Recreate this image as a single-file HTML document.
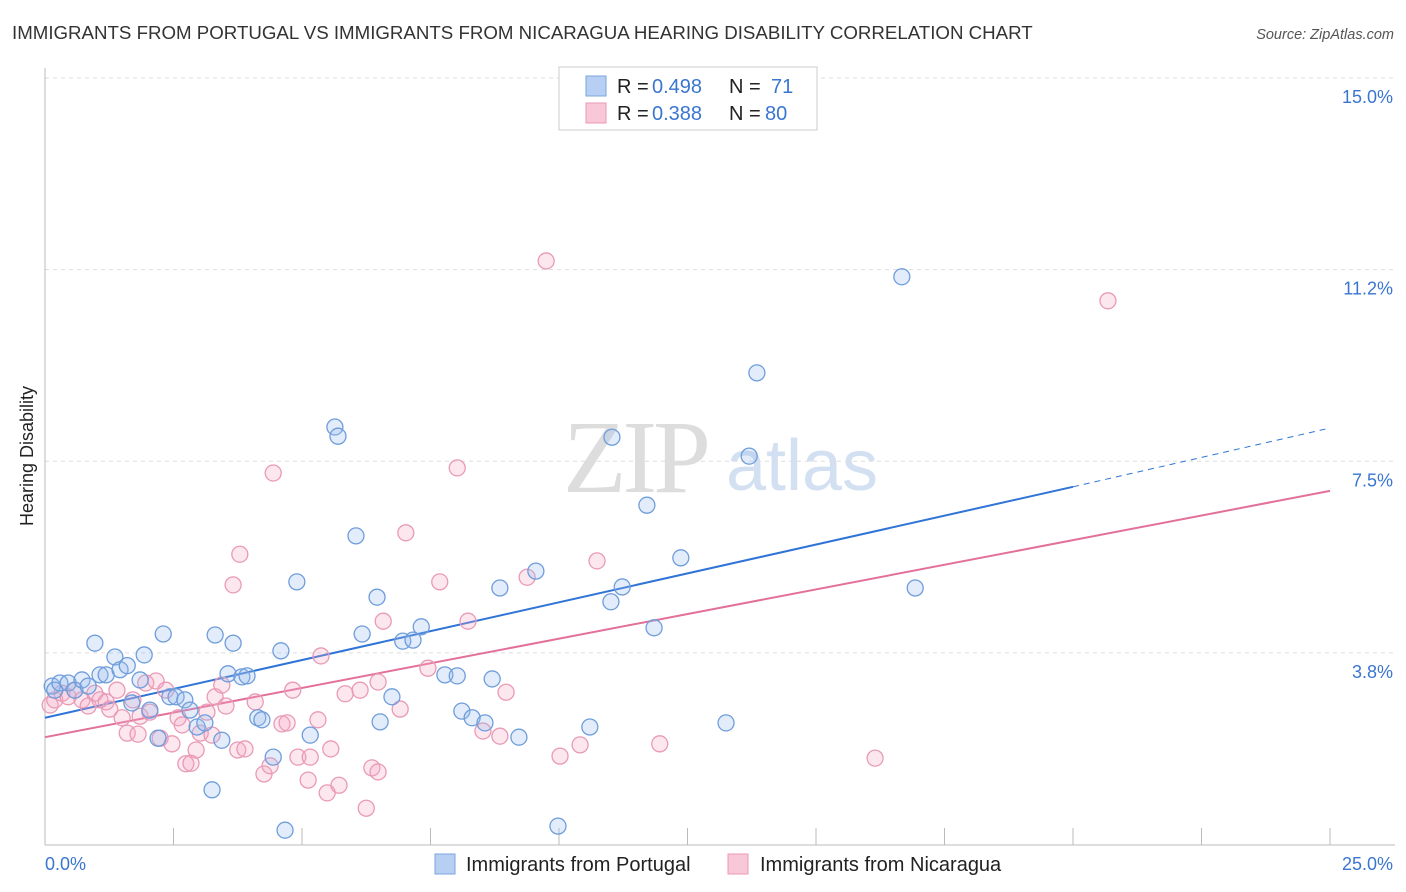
<!DOCTYPE html>
<html><head><meta charset="utf-8">
<style>
body{margin:0;background:#fff;font-family:"Liberation Sans",sans-serif;}
#wrap{position:relative;width:1406px;height:892px;overflow:hidden;}
</style></head>
<body>
<div id="wrap">
<svg id="chart" width="1406" height="892">
<text x="12" y="39" font-size="18.7" fill="#333">IMMIGRANTS FROM PORTUGAL VS IMMIGRANTS FROM NICARAGUA HEARING DISABILITY CORRELATION CHART</text>
<text x="1394" y="39" font-size="14.5" fill="#555" font-style="italic" text-anchor="end">Source: ZipAtlas.com</text>
<text x="33" y="456" font-size="18" fill="#222" text-anchor="middle" transform="rotate(-90 33 456)">Hearing Disability</text>
<g>
<text x="635" y="492" font-size="104" fill="#ddd" font-family="Liberation Serif" text-anchor="middle" letter-spacing="-4">ZIP</text>
<text x="802" y="490" font-size="72" fill="#d3e0f2" text-anchor="middle">atlas</text>
</g>
<g id="grid"></g><g id="trends"></g><g id="points"></g>
<g>
<rect x="559" y="67" width="258" height="63" fill="#fff" stroke="#ccc"/>
<rect x="586" y="76" width="20" height="20" fill="#b6cff2" stroke="#7aa5dd"/>
<rect x="586" y="103" width="20" height="20" fill="#f8c8d8" stroke="#e99ab5"/>
<text x="617" y="93" font-size="20" fill="#222">R =</text>
<text x="652" y="93" font-size="20" fill="#3a76d0">0.498</text>
<text x="729" y="93" font-size="20" fill="#222">N =</text>
<text x="771" y="93" font-size="20" fill="#3a76d0">71</text>
<text x="617" y="120" font-size="20" fill="#222">R =</text>
<text x="652" y="120" font-size="20" fill="#3a76d0">0.388</text>
<text x="729" y="120" font-size="20" fill="#222">N =</text>
<text x="765" y="120" font-size="20" fill="#3a76d0">80</text>
</g>
<g>
<rect x="435" y="854" width="20" height="20" fill="#b6cff2" stroke="#7aa5dd"/>
<text x="466" y="871" font-size="20" fill="#222">Immigrants from Portugal</text>
<rect x="728" y="854" width="20" height="20" fill="#f8c8d8" stroke="#e99ab5"/>
<text x="760" y="871" font-size="20" fill="#222">Immigrants from Nicaragua</text>
</g>
</svg>
</div>
<script>
const yTicks=[15.0,11.25,7.5,3.75];
const yTickLabels=["15.0%","11.2%","7.5%","3.8%"];
const xTicks=[0,2.5,5,7.5,10,12.5,15,17.5,20,22.5,25];
const xEndLabels=["0.0%","25.0%"];
const blueX=[0.14,0.19,0.29,0.45,0.58,0.72,0.84,0.97,1.07,1.19,1.36,1.46,1.60,1.69,1.85,1.93,2.04,2.20,2.30,2.43,2.55,2.72,2.82,2.96,3.11,3.25,3.31,3.44,3.56,3.66,3.83,3.93,4.14,4.22,4.44,4.59,4.67,4.90,5.16,5.64,5.70,6.05,6.17,6.46,6.52,6.75,6.96,7.16,7.32,7.78,8.02,8.11,8.31,8.56,8.70,8.85,9.22,9.55,9.98,10.60,11.01,11.03,11.23,11.71,11.85,12.37,13.25,13.70,13.85,16.67,16.93];
const blueY=[3.10,3.02,3.16,3.16,3.02,3.22,3.10,3.94,3.32,3.32,3.67,3.42,3.50,2.77,3.22,3.71,2.63,2.08,4.12,2.89,2.89,2.83,2.63,2.30,2.38,1.07,4.10,2.04,3.34,3.94,3.28,3.30,2.48,2.44,1.71,3.79,0.28,5.14,2.14,8.17,7.99,6.04,4.12,4.84,2.40,2.89,3.98,4.00,4.26,3.32,3.30,2.61,2.48,2.38,3.24,5.02,2.10,5.35,0.36,2.30,4.75,7.97,5.04,6.64,4.24,5.61,2.38,7.60,9.23,11.11,5.02];
const pinkX=[0.10,0.19,0.33,0.45,0.58,0.72,0.84,0.97,1.07,1.19,1.26,1.40,1.50,1.60,1.71,1.81,1.85,1.96,2.04,2.16,2.24,2.35,2.47,2.59,2.67,2.74,2.84,2.94,3.02,3.15,3.25,3.31,3.44,3.52,3.66,3.79,3.75,3.89,4.09,4.26,4.38,4.44,4.61,4.71,4.82,4.92,5.16,5.12,5.31,5.37,5.49,5.56,5.72,5.84,6.13,6.25,6.36,6.48,6.48,6.58,6.91,7.02,7.45,7.68,8.02,8.23,8.52,8.85,8.97,9.38,9.75,10.02,10.41,10.74,11.96,16.15,20.68];
const pinkY=[2.73,2.83,2.96,2.89,3.02,2.83,2.71,2.96,2.83,2.79,2.65,3.02,2.48,2.18,2.83,2.16,2.51,3.16,2.59,3.20,2.08,3.02,1.97,2.48,2.34,1.58,1.59,1.85,2.18,2.59,2.14,2.89,3.12,2.71,5.08,5.68,1.85,1.87,2.79,1.38,1.54,7.27,2.36,2.38,3.02,1.71,1.71,1.26,2.44,3.69,1.01,1.87,1.16,2.95,3.02,0.71,1.50,1.42,3.18,4.37,2.65,6.10,3.45,5.14,7.37,4.37,2.22,2.12,2.98,5.23,11.42,1.73,1.95,5.55,1.97,1.69,10.64];
const blueTrend=[2.48,7.00,8.15];
const pinkTrend=[2.10,6.92];
const NS="http://www.w3.org/2000/svg";
function X(v){return 45+v*51.4;}
function Y(v){return 78+(15-v)*51.1;}
function mk(tag,attrs,parent){const e=document.createElementNS(NS,tag);for(const k in attrs)e.setAttribute(k,attrs[k]);parent.appendChild(e);return e;}
const grid=document.getElementById('grid');
yTicks.forEach((t,i)=>{
  const l=mk('line',{x1:45,x2:1395,y1:Y(t),y2:Y(t),stroke:'#ddd','stroke-dasharray':'4 4'},grid);
  
  
  const tx=mk('text',{x:1393,y:Y(t)+25,'font-size':18,fill:'#3a76d0','text-anchor':'end'},grid);
  tx.textContent=yTickLabels[i];
  
  
});
const ax=mk('line',{x1:45,x2:45,y1:68,y2:845,stroke:'#bbb'},grid);


const bx=mk('line',{x1:45,x2:1395,y1:845,y2:845,stroke:'#bbb'},grid);


xTicks.forEach(t=>{
  const l=mk('line',{x1:X(t),x2:X(t),y1:828,y2:845,stroke:'#bbb'},grid);
  
  
});
const xl0=mk('text',{x:45,y:870,'font-size':18,fill:'#3a76d0'},grid);xl0.textContent=xEndLabels[0];


const xl1=mk('text',{x:1393,y:870,'font-size':18,fill:'#3a76d0','text-anchor':'end'},grid);xl1.textContent=xEndLabels[1];


const pts=document.getElementById('points');
function drawSeries(xs,ys,fill,stroke,name){
  xs.forEach((x,i)=>{
    const c=mk('circle',{cx:X(x),cy:Y(ys[i]),r:8,fill:fill,stroke:stroke,'stroke-width':1.3},pts);
    
    
  });
}
drawSeries(pinkX,pinkY,'rgba(244,170,196,0.28)','#e99ab5','nicaragua-point');
drawSeries(blueX,blueY,'rgba(150,188,238,0.28)','#6f9ddb','portugal-point');
const tr=document.getElementById('trends');
const b1=mk('line',{x1:X(0),y1:Y(blueTrend[0]),x2:X(20),y2:Y(blueTrend[1]),stroke:'#2f74d6','stroke-width':2},tr);


const b2=mk('line',{x1:X(20),y1:Y(blueTrend[1]),x2:X(25),y2:Y(blueTrend[2]),stroke:'#2f74d6','stroke-width':1,'stroke-dasharray':'6 5'},tr);


const p1=mk('line',{x1:X(0),y1:Y(pinkTrend[0]),x2:X(25),y2:Y(pinkTrend[1]),stroke:'#e3709a','stroke-width':2},tr);


</script>
</body></html>
